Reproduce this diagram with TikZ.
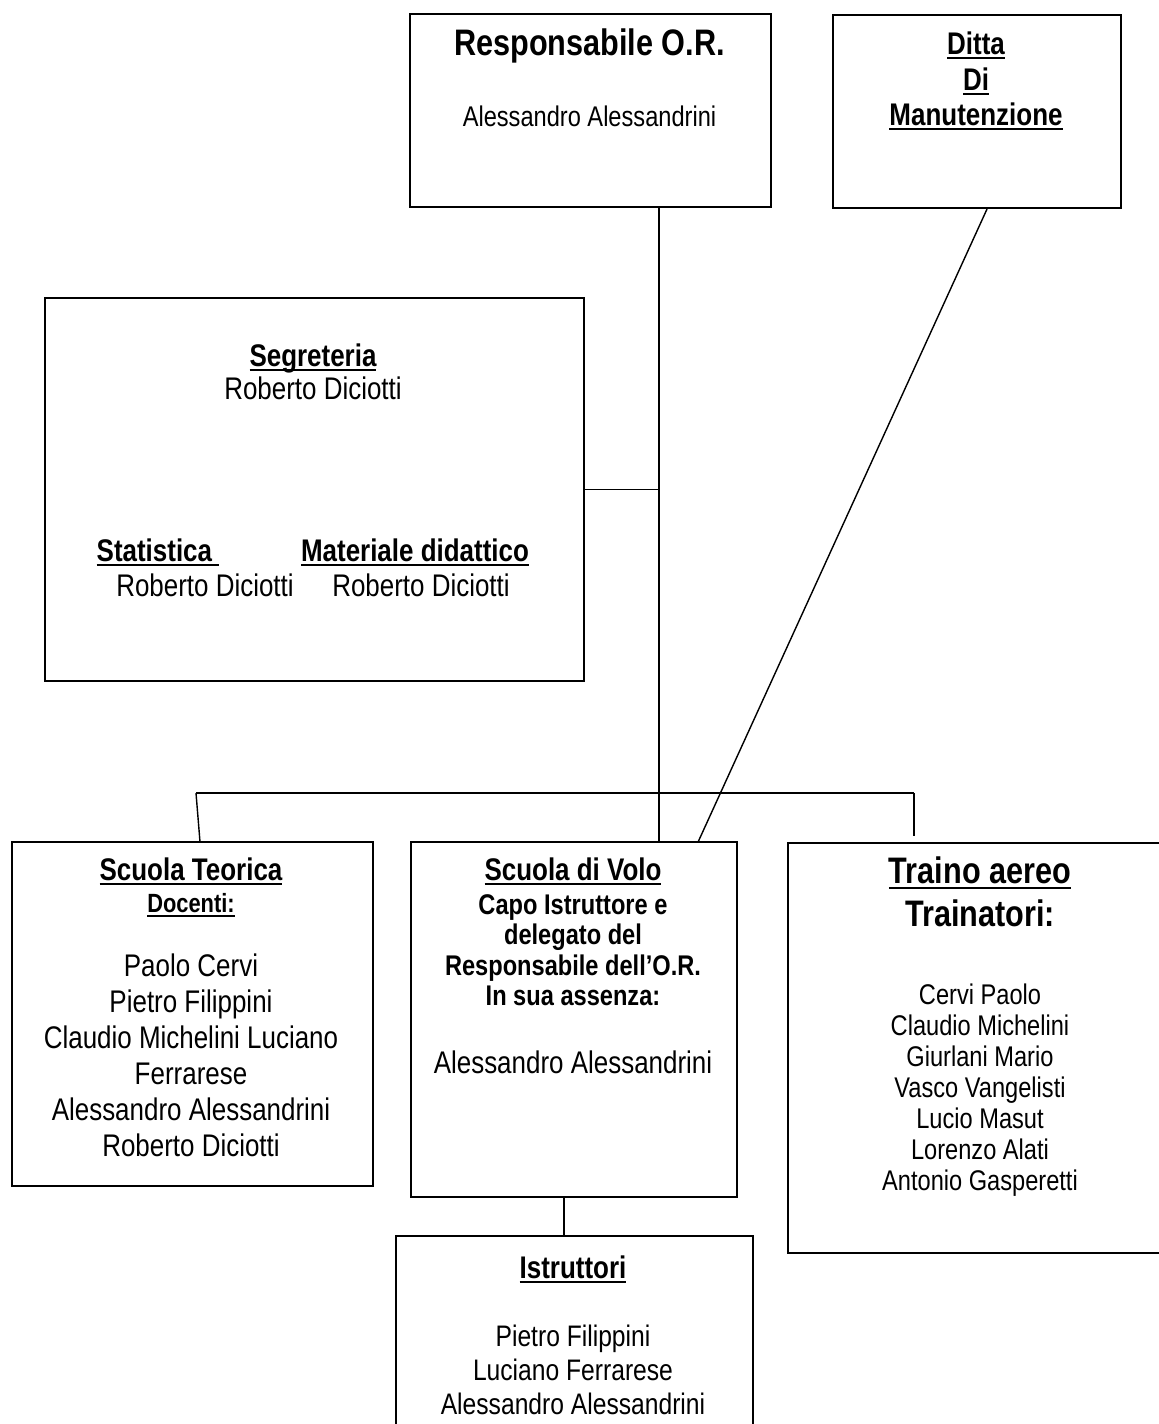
\documentclass[tikz,border=0pt]{standalone}
\usepackage{fontspec}
\setmainfont{Liberation Sans}[FakeStretch=0.83]
\usepackage{tikz}
\usetikzlibrary{positioning, calc}

\newcommand{\uword}[1]{\setbox0\hbox{#1}\rlap{\rule[-0.16em]{\wd0}{1.1pt}}\box0}

\tikzset{
  box/.style={draw, line width=1.1pt, anchor=north west, inner sep=0pt},
  link/.style={line width=0.8pt},
  head/.style={font=\bfseries\fontsize{17.8}{21}\selectfont, anchor=mid, inner sep=0pt, yshift=-0.07cm},
  bighead/.style={font=\bfseries\fontsize{21}{25}\selectfont, anchor=mid, inner sep=0pt, yshift=-0.07cm},
  subhead/.style={font=\bfseries\fontsize{16.2}{19}\selectfont, anchor=mid, inner sep=0pt, yshift=-0.06cm},
  smallhead/.style={font=\bfseries\fontsize{15}{18}\selectfont, anchor=mid, inner sep=0pt, yshift=-0.06cm},
  person/.style={font=\fontsize{17.8}{21}\selectfont, anchor=mid, inner sep=0pt, yshift=-0.04cm},
  midperson/.style={font=\fontsize{16.9}{20}\selectfont, anchor=mid, inner sep=0pt, yshift=-0.04cm},
  smallperson/.style={font=\fontsize{16.2}{19}\selectfont, anchor=mid, inner sep=0pt, yshift=-0.04cm},
}

\begin{document}
\begin{tikzpicture}[x=0.02cm, y=-0.02cm]
    \useasboundingbox (0,0) rectangle (1159,1424);
    \clip (0,0) rectangle (1159,1424);

    % Boxes
    \node[box, minimum width=7.22cm, minimum height=3.86cm] (resp) at (409,13) {};
    \node[box, minimum width=5.76cm, minimum height=3.86cm] (ditta) at (832,14) {};
    \node[box, minimum width=10.78cm, minimum height=7.66cm] (segr) at (44,297) {};
    \node[box, minimum width=7.22cm, minimum height=6.88cm] (teorica) at (11,841) {};
    \node[box, minimum width=6.52cm, minimum height=7.10cm] (volo) at (410,841) {};
    \node[box, minimum width=7.60cm, minimum height=8.20cm] (traino) at (787,842) {};
    \node[box, minimum width=7.14cm, minimum height=4.40cm] (istr) at (395,1235) {};

    % Connectors
    \coordinate (spine) at (659,0);
    \coordinate (busL) at (196,793);
    \coordinate (busR) at (914,793);
    \coordinate (istrlink) at (564,0);
    \draw[link] (resp.south -| spine) -- (volo.north -| spine);
    \draw[link] (segr.east) -- (segr.east -| spine);
    \draw[link] (busL) -- (busR);
    \draw[link] (busL) -- ([xshift=0.15cm]teorica.north);
    \draw[link] (busR) -- ([yshift=0.12cm]traino.north -| busR);
    \draw[link] ($(ditta.south west)!0.535!(ditta.south east)$) -- ($(volo.north west)!0.88!(volo.north east)$);
    \draw[link] (volo.south -| istrlink) -- (istr.north -| istrlink);

    % Responsabile
    \node[bighead] (resptitle) at (589.5,47) {Responsabile O.R.};
    \node[smallperson] (respname) at (589.5,120) {Alessandro Alessandrini};

    % Ditta
    \foreach \word/\y [count=\i] in {Ditta/46, Di/82, Manutenzione/117}
        \node[head] (ditta\i) at (976,\y) {\uword{\word}};

    % Segreteria
    \node[head] (segrtitle) at (313,358) {\uword{Segreteria}};
    \node[person] (segrname) at (313,393) {Roberto Diciotti};
    \node[head] (stat) at (158,553) {\uword{Statistica\ }};
    \node[head] (mat) at (415,553) {\uword{Materiale didattico}};
    \node[person] (statname) at (205,590) {Roberto Diciotti};
    \node[person] (matname) at (421,590) {Roberto Diciotti};

    % Scuola Teorica
    \node[head] (teotitle) at (191,872) {\uword{Scuola Teorica}};
    \node[smallhead] (teosub) at (191,905) {\uword{Docenti:}};
    \foreach \who [count=\i from 0] in {Paolo Cervi, Pietro Filippini, Claudio Michelini Luciano, Ferrarese, Alessandro Alessandrini, Roberto Diciotti}
        \node[person] (teo\i) at (191,970+36*\i) {\who};

    % Scuola di Volo
    \node[head] (volotitle) at (573,872) {\uword{Scuola di Volo}};
    \foreach \line/\y [count=\i] in {Capo Istruttore e/907, delegato del/937, Responsabile dell’O.R./968, In sua assenza:/998}
        \node[subhead] (volosub\i) at (573,\y) {\line};
    \node[person] (voloname) at (573,1067) {Alessandro Alessandrini};

    % Traino aereo
    \node[bighead] (trtitle) at (980,875) {\uword{Traino aereo}};
    \node[bighead] (trsub) at (980,918) {Trainatori:};
    \foreach \who [count=\i from 0] in {Cervi Paolo, Claudio Michelini, Giurlani Mario, Vasco Vangelisti, Lucio Masut, Lorenzo Alati, Antonio Gasperetti}
        \node[smallperson] (tr\i) at (980,998+31*\i) {\who};

    % Istruttori
    \node[head] (istrtitle) at (573,1270) {\uword{Istruttori}};
    \foreach \who [count=\i from 0] in {Pietro Filippini, Luciano Ferrarese, Alessandro Alessandrini}
        \node[midperson] (istr\i) at (573,1340+34*\i) {\who};
\end{tikzpicture}
\end{document}
